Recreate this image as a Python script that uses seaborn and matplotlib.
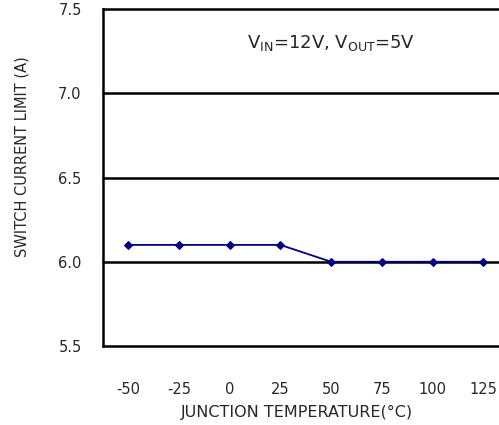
import matplotlib
matplotlib.use("Agg")
import matplotlib.pyplot as plt
import seaborn as sns
import pandas as pd

temps = [-50, -25, 0, 25, 50, 75, 100, 125]
current = [6.1, 6.1, 6.1, 6.1, 6.0, 6.0, 6.0, 6.0]
xticks = [-50, -25, 0, 25, 50, 75, 100, 125]
yticks = [5.5, 6.0, 6.5, 7.0, 7.5]

sns.set_style("white")
plt.rcParams['font.family'] = ['DejaVu Sans']

df = pd.DataFrame({"temp": temps, "current": current})

fig = plt.figure(figsize=(4.99, 4.25), dpi=100)
ax = fig.add_axes([102.5/499, 1-346/425, 1-102.5/499 + 0.002, (346-9)/425])

sns.lineplot(data=df, x="temp", y="current", ax=ax, color="#000080",
             marker="D", markersize=4.5, markeredgecolor="#000080",
             linewidth=1.3, zorder=5)

ax.set_xlim(-62.6, 133.2)
ax.set_ylim(5.5, 7.5)
ax.set_xticks(xticks)
ax.set_xticklabels([str(t) for t in xticks])
ax.set_yticks(yticks)
ax.set_yticklabels([f"{v:.1f}" for v in yticks])

for y in yticks:
    ax.axhline(y, color="black", linewidth=1.8, zorder=1, clip_on=False)
for s in ["top", "bottom", "right"]:
    ax.spines[s].set_visible(False)
ax.spines["left"].set_color("black")
ax.spines["left"].set_linewidth(1.8)

ax.tick_params(axis="both", length=0, labelsize=10.5, colors="#262626")
ax.tick_params(axis="y", pad=15)
ax.tick_params(axis="x", pad=26)

ax.set_xlabel("JUNCTION TEMPERATURE(°C)", fontsize=11.5, color="#262626")
ax.set_ylabel("SWITCH CURRENT LIMIT (A)", fontsize=10.5, color="#262626")
ax.xaxis.set_label_coords(0.49, (346-412)/337, transform=ax.transAxes)
ax.yaxis.set_label_coords((22-102.5)/397, 1-(157-9)/337)
ax.xaxis.label.set_va("center")
ax.yaxis.label.set_va("center")

fig.text(247/499, 1-43/425, r"V$_{\mathregular{IN}}$=12V, V$_{\mathregular{OUT}}$=5V",
         fontsize=13, color="#262626", ha="left", va="center")

fig.savefig("out.png", dpi=100)
